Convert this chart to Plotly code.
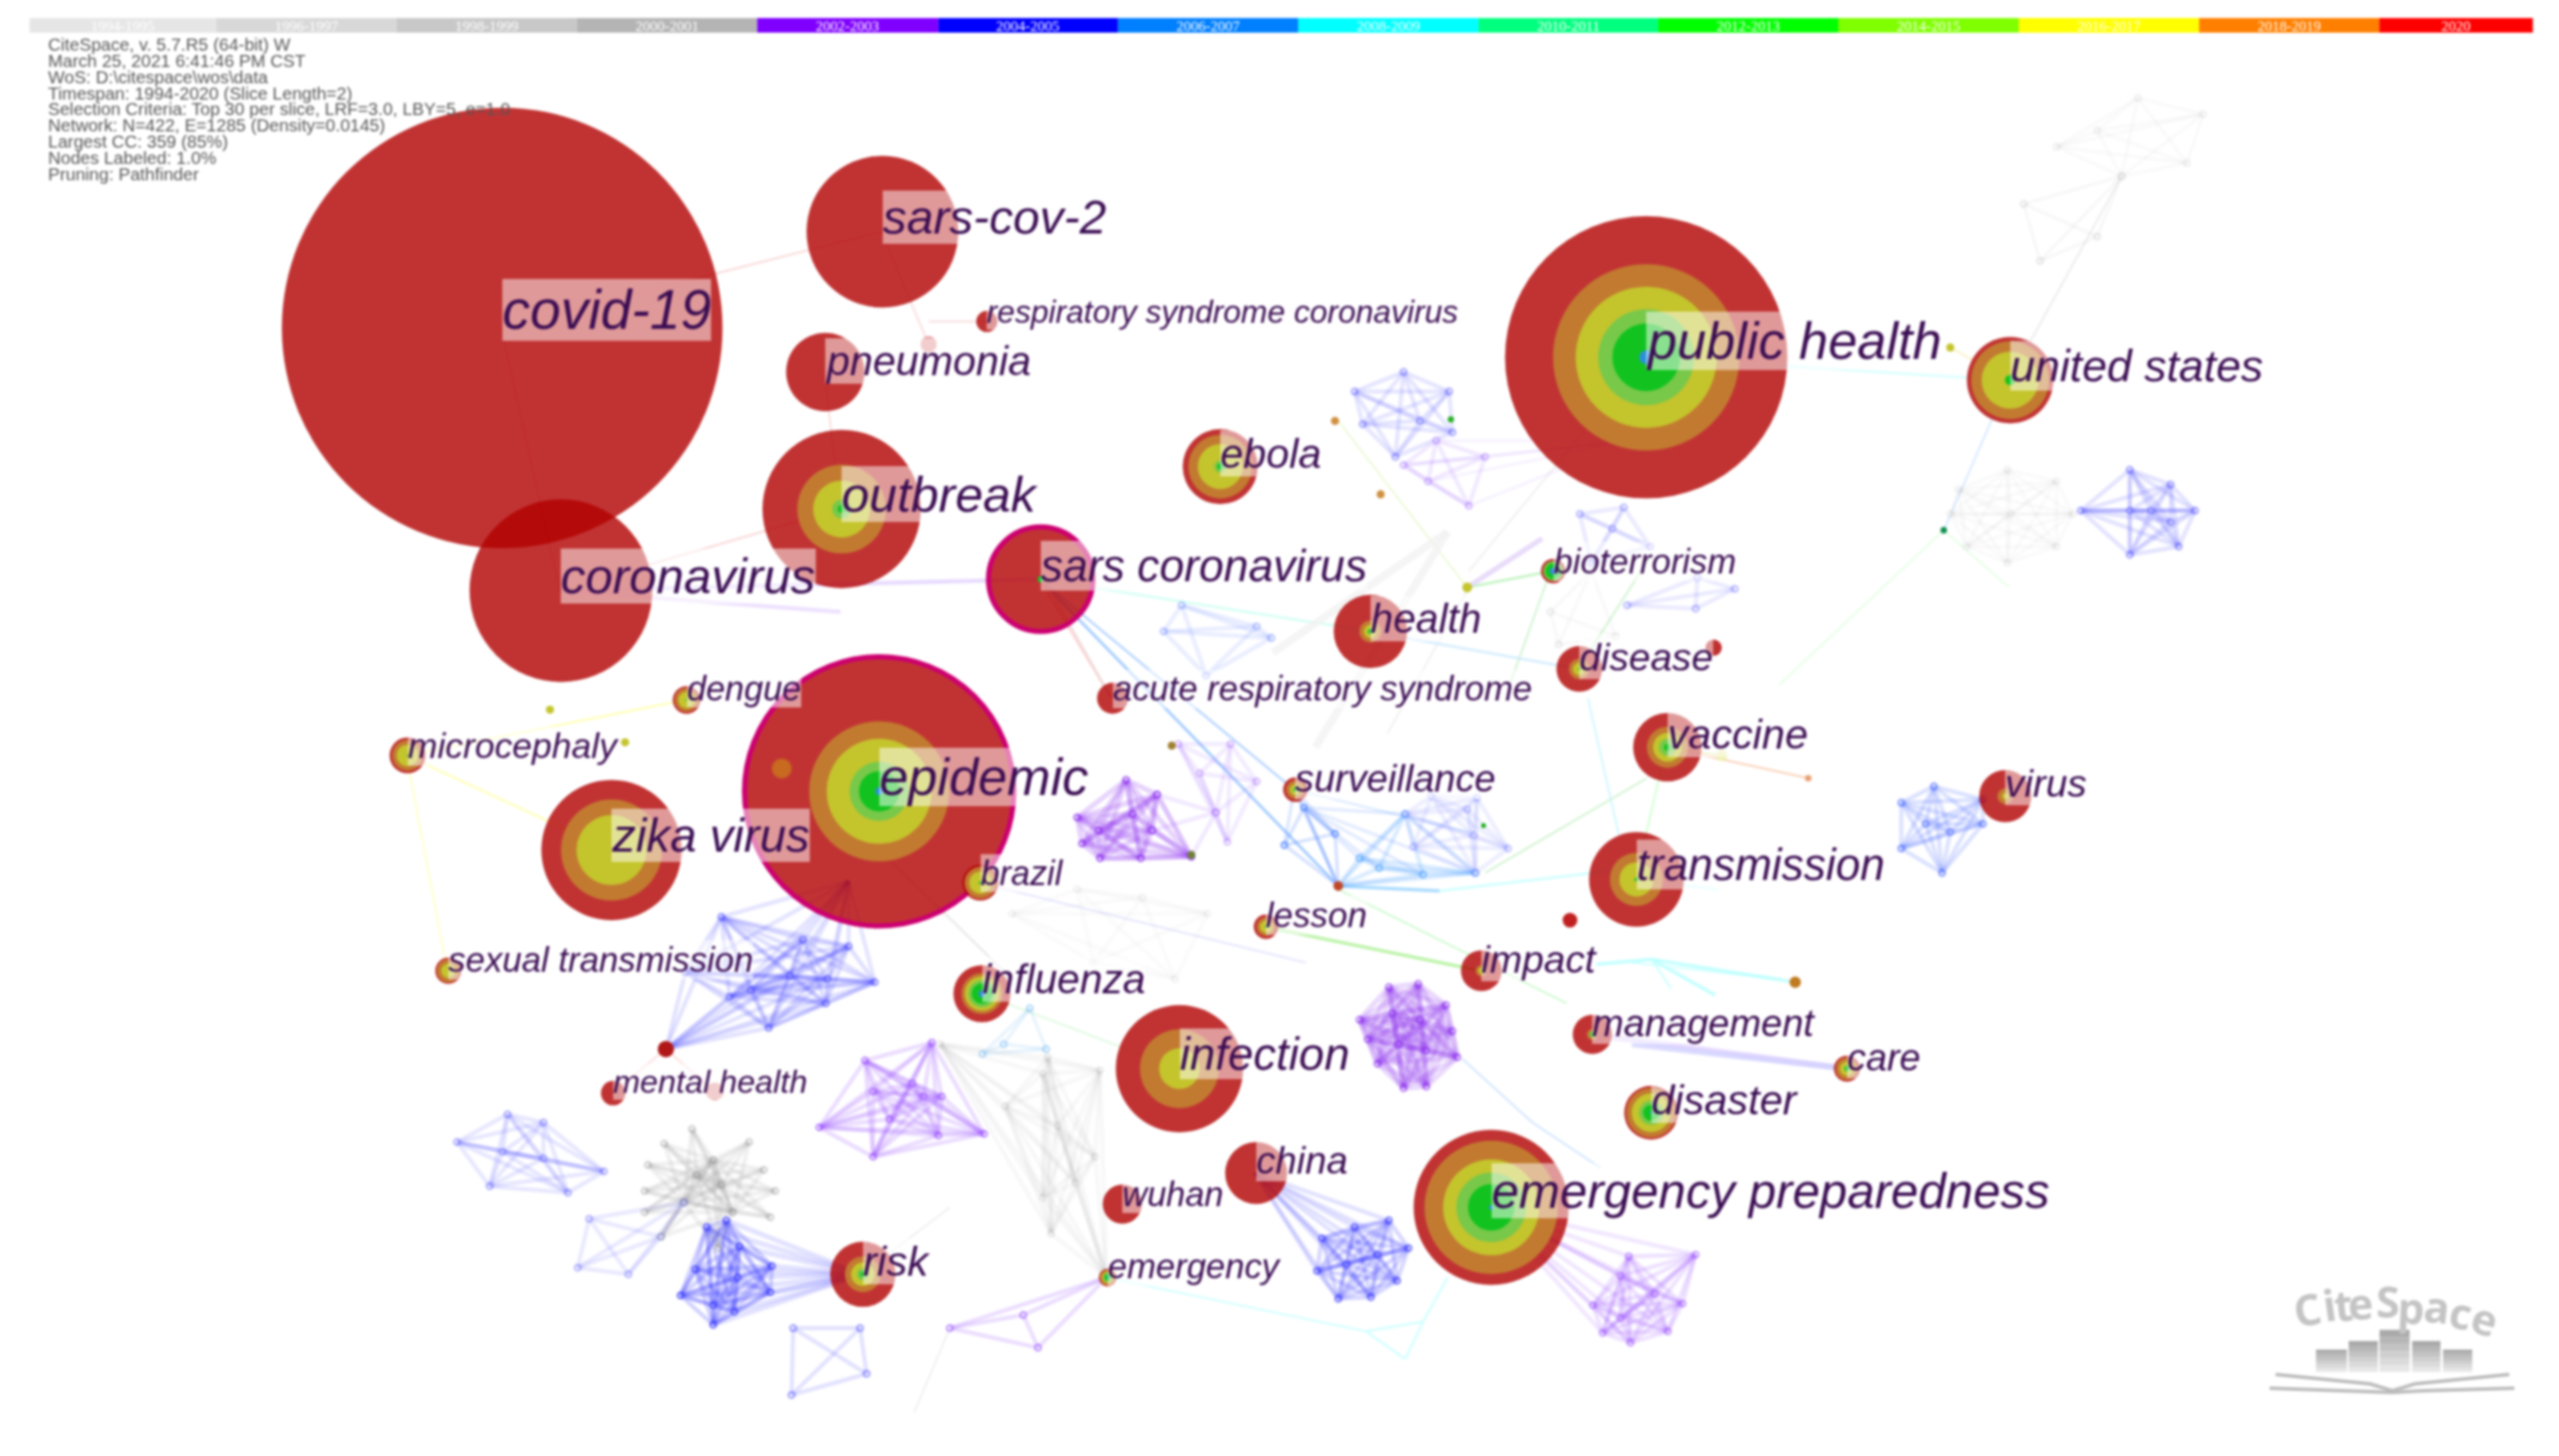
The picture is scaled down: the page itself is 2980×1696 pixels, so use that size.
import itertools
import plotly.graph_objects as go

W, H = 2980, 1696
VW = 1568.0
VH = VW * H / W
S = W / VW

# ---- timeline ----
slice_labels = ["1994-1995", "1996-1997", "1998-1999", "2000-2001", "2002-2003", "2004-2005", "2006-2007",
                "2008-2009", "2010-2011", "2012-2013", "2014-2015", "2016-2017", "2018-2019", "2020"]
slice_colors = ["#e6e6e6", "#d8d8d8", "#c8c8c8", "#b4b4b4", "#7f00ff", "#0000ff", "#007fff",
                "#00ffff", "#00ff7f", "#00ff00", "#7fff00", "#ffff00", "#ff7f00", "#ff0000"]
slice_edges = [18, 132.5, 243, 353.5, 464, 575, 685, 795.5, 906, 1016, 1126.5, 1237, 1347.5, 1458, 1552]

# ---- header ----
header_lines = ["CiteSpace, v. 5.7.R5 (64-bit) W", "March 25, 2021 6:41:46 PM CST", "WoS: D:\\citespace\\wos\\data",
                "Timespan: 1994-2020 (Slice Length=2)",
                "Selection Criteria: Top 30 per slice, LRF=3.0, LBY=5, e=1.0",
                "Network: N=422, E=1285 (Density=0.0145)", "Largest CC: 359 (85%)", "Nodes Labeled: 1.0%",
                "Pruning: Pathfinder"]

# ---- labelled nodes ----
labels = ["covid-19", "sars-cov-2", "respiratory syndrome coronavirus", "pneumonia", "public health", "united states",
          "outbreak", "ebola", "coronavirus", "sars coronavirus", "bioterrorism", "health", "disease",
          "acute respiratory syndrome", "dengue", "microcephaly", "epidemic", "vaccine", "surveillance", "virus",
          "zika virus", "brazil", "transmission", "lesson", "sexual transmission", "impact", "influenza", "management",
          "infection", "care", "mental health", "disaster", "china", "wuhan", "emergency preparedness", "risk", "emergency"]
node_x = [307.7, 540.7, 604.7, 505.7, 1008.7, 1231.7, 515.7, 747.7, 343.7, 637.7, 951.7, 839.7, 967.7, 681.7, 420.7, 249.7,
          538.7, 1021.7, 793.7, 1228.7, 374.7, 600.7, 1002.7, 775.7, 274.7, 907.7, 601.7, 975.7, 722.7, 1131.7, 375.7,
          1011.7, 769.7, 687.7, 913.7, 528.7, 678.7]
node_y = [201, 142, 197, 228, 219, 233, 312, 286, 362, 355, 350, 387, 410, 428, 429, 463, 485, 458, 484, 488,
          521, 541, 539, 568, 595, 595, 609, 634, 655, 655, 670, 682, 719, 738, 740, 781, 783]
node_d = [270, 93, 13, 48, 173, 53, 97, 46, 112, 64, 15, 45, 28, 19, 17, 22, 165, 42, 15, 32,
          86, 22, 58, 15, 16, 25, 35, 24, 78, 16, 15, 33, 38, 24, 95, 40, 11]
frac_orange = [0, 0, 0, 0, .66, .90, .56, .85, 0, 0, 0, .30, .45, 0, .85, .85, .52, .60, .75, .30,
               .72, .88, .56, .75, .88, .28, .72, .28, .62, .85, 0, .92, 0, 0, .86, .55, .90]
frac_yellow = [0, 0, 0, 0, .50, .66, .36, .60, 0, 0, 0, .18, .28, 0, .60, .60, .39, .42, .45, .12,
               .50, .62, .36, .50, .55, .15, .60, 0, .32, .55, 0, .72, 0, 0, .62, .36, .62]
frac_lgreen = [0, 0, 0, 0, .34, 0, .12, .16, 0, 0, .80, .08, 0, 0, .10, 0, .22, .25, .22, 0,
               0, 0, 0, .12, 0, 0, .48, .15, 0, .25, 0, .45, 0, 0, .45, .18, .48]
frac_green = [0, 0, 0, 0, .24, .12, .05, .08, 0, .06, .65, .06, .05, 0, .05, .05, .15, .10, .12, 0,
              0, .08, .04, .06, 0, 0, .36, .08, 0, .15, 0, .30, 0, 0, .30, .08, .36]
frac_blue = [0, 0, 0, 0, .05, 0, 0, 0, 0, 0, .28, 0, 0, 0, 0, 0, .03, 0, 0, 0,
             0, 0, 0, 0, 0, 0, .12, 0, 0, 0, 0, .05, 0, 0, .03, 0, .12]
outlined = ["epidemic", "sars coronavirus"]
label_width = [128, 137, 289, 125, 180, 155, 119, 62, 156, 200, 112, 68, 82, 257, 70, 128, 128, 86, 123, 50,
               121, 50, 152, 62, 187, 70, 100, 136, 104, 45, 119, 89, 56, 62, 342, 40, 105]
label_y = [190, 133, 191, 221, 209, 224, 303, 278, 353, 347, 344, 379, 403, 422, 422, 457, 476, 450, 477, 480,
           512, 535, 530, 561, 588, 588, 600, 627, 646, 648, 663, 674, 711, 732, 730, 773, 776]

# ---- unlabelled small nodes ----
small_x = [569, 438, 408, 962, 1100, 337, 383, 1195, 899, 1191, 818, 889, 846, 1055, 1108, 1050, 479, 730, 718, 820, 909]
small_y = [211, 669, 643, 564, 602, 435, 455, 213, 360, 325, 258, 257, 303, 463, 477, 397, 471, 524, 457, 543, 506]
small_d = [10, 11, 10, 9, 7, 5, 5, 5, 6, 4, 5, 4, 5, 7, 4, 10, 12, 5, 5, 6, 3]
small_c = ["#e59a9a", "#e59a9a", "#b01818", "#c02020", "#c07a20", "#c4c42c", "#c4c42c", "#c4c42c", "#c4c42c", "#109050",
           "#d09040", "#30b030", "#d09040", "#efefb0", "#e8a070", "#c03030", "#c86a20", "#70803a", "#a08030", "#c04828", "#20b020"]

# ---- clusters ----
cl_big_blue = [(442, 562), (492, 576), (520, 580), (536, 602), (507, 600), (506, 615), (471, 630), (447, 611), (460, 607), (420, 596), (484, 598)]
cl_lilac_star = [(571, 639), (530, 650), (535, 669), (559, 664), (566, 672), (577, 672), (545, 686), (575, 696), (603, 695), (535, 709), (502, 691)]
cl_blue_left = [(311, 683), (333, 688), (280, 700), (308, 706), (333, 710), (370, 718), (348, 731), (300, 727)]
cl_grey_star_inner = [(437, 711), (442, 726), (427, 720), (419, 737), (449, 743)]
cl_grey_star_outer = [(424, 692), (459, 700), (407, 701), (397, 714), (468, 717), (475, 730), (395, 730), (472, 746), (395, 743), (405, 758), (440, 765)]
cl_square_left = [(361, 747), (354, 777), (385, 781), (419, 737), (405, 758)]
cl_blue_risk = [(433, 752), (445, 748), (453, 764), (473, 776), (426, 778), (452, 783), (472, 792), (417, 794), (437, 800), (450, 804), (437, 812)]
cl_x_bottom = [(486, 814), (527, 814), (531, 842), (485, 855)]
cl_lilac_bottom = [(582, 814), (678, 783), (636, 826), (627, 806)]
cl_grey_centre = [(639, 658), (616, 678), (642, 648), (674, 656), (671, 709), (639, 734), (659, 725), (644, 756), (678, 783), (576, 640), (648, 690)]
cl_sky_influenza = [(602, 646), (631, 618), (641, 643), (615, 640)]
cl_purple_mid = [(690, 478), (709, 487), (660, 501), (694, 499), (673, 509), (706, 509), (663, 517), (674, 526), (699, 526), (730, 525)]
cl_purple_bridge = [(709, 487), (745, 498), (730, 525), (706, 509)]
cl_purple_round = [(851, 605), (869, 603), (886, 616), (833, 625), (853, 621), (870, 625), (890, 632), (838, 637), (857, 640), (874, 644), (893, 648), (844, 652), (860, 667), (874, 666)]
cl_lilac_prep = [(1039, 769), (998, 770), (993, 782), (1014, 793), (1031, 799), (976, 800), (993, 808), (1022, 816), (982, 817), (999, 823)]
cl_blue_china = [(851, 748), (830, 752), (810, 759), (863, 765), (844, 769), (825, 775), (807, 779), (856, 785), (840, 795), (820, 796)]
cl_grey_top = [(1240, 125), (1250, 160), (1300, 108), (1285, 145)]
cl_grey_top2 = [(1285, 80), (1310, 60), (1350, 70), (1340, 100), (1300, 108), (1260, 90)]
cl_blue_pub = [(830, 240), (860, 228), (888, 240), (890, 265), (855, 280), (835, 260), (870, 258)]
cl_lilac_pub = [(860, 285), (900, 310), (910, 280), (880, 270), (875, 295)]
cl_grey_right = [(1200, 300), (1230, 288), (1260, 295), (1270, 315), (1260, 335), (1230, 345), (1205, 335), (1195, 315), (1232, 315)]
cl_blue_right = [(1275, 313), (1305, 288), (1330, 297), (1345, 313), (1335, 335), (1305, 340), (1305, 313), (1318, 313), (1330, 320)]
cl_blue_bio = [(968, 315), (995, 311), (988, 324), (1011, 335), (975, 345)]
cl_blue_bio2 = [(1063, 361), (997, 371), (1039, 373), (1040, 354)]
cl_grey_bio = [(950, 375), (975, 350), (990, 390), (955, 395)]
cl_blue_mid = [(724, 371), (713, 387), (770, 384), (779, 391), (739, 414)]
cl_lilac_mid = [(754, 456), (722, 456), (770, 479), (735, 474), (752, 516), (745, 498)]
cl_sky_left = [(799, 495), (787, 518), (818, 511), (820, 543)]
cl_sky_low = [(845, 532), (872, 536), (904, 535), (833, 526), (861, 499), (820, 543)]
cl_peri_high = [(905, 489), (877, 488), (899, 496), (903, 512), (866, 519), (861, 499), (924, 520), (904, 535)]
cl_blue_virus = [(1165, 492), (1185, 482), (1215, 490), (1215, 505), (1190, 535), (1165, 520), (1180, 505), (1195, 510)]
cl_grey_brazil = [(620, 560), (660, 545), (700, 550), (740, 560), (720, 600), (670, 590)]

cluster_sets = [
    (cl_grey_star_inner, "#909090", .16, 5), (cl_grey_centre, "#a0a0a0", .07, 5), (cl_grey_top, "#b0b0b0", .09, 4),
    (cl_grey_top2, "#b0b0b0", .06, 4), (cl_grey_right, "#b0b0b0", .06, 4), (cl_grey_bio, "#b0b0b0", .08, 4),
    (cl_grey_brazil, "#b0b0b0", .05, 5), (cl_big_blue, "#4646ff", .17, 5), (cl_blue_left, "#5a5aff", .14, 5),
    (cl_square_left, "#6a6aff", .14, 5), (cl_blue_risk, "#3c3cff", .22, 5), (cl_x_bottom, "#5a5aff", .17, 5),
    (cl_blue_china, "#3c3cff", .20, 5), (cl_blue_pub, "#5a5aff", .15, 5), (cl_blue_right, "#5a5aff", .16, 5),
    (cl_blue_bio, "#5a5aff", .12, 5), (cl_blue_bio2, "#5a5aff", .12, 5), (cl_blue_mid, "#5a7aff", .13, 5),
    (cl_blue_virus, "#4a6aff", .19, 5), (cl_sky_influenza, "#60b0f0", .14, 4), (cl_sky_left, "#4a80ff", .22, 4),
    (cl_sky_low, "#4aa0ff", .20, 5), (cl_peri_high, "#7a80ff", .13, 5),
    (cl_lilac_star, "#9a50ff", .19, 5), (cl_lilac_bottom, "#a060ff", .20, 5), (cl_lilac_prep, "#9a50ff", .16, 5),
    (cl_lilac_pub, "#9a60ff", .13, 5), (cl_lilac_mid, "#a060ff", .12, 5), (cl_purple_bridge, "#a060ff", .14, 5),
    (cl_purple_mid, "#8a2cf0", .20, 6), (cl_purple_round, "#8a2cf0", .17, 6),
]

# fans from hubs into clusters: hub point, cluster, colour, alpha, width
fan_sets = [
    ((520, 540), cl_big_blue, "#4646ff", .14, 5),
    ((408, 643), cl_big_blue, "#4646ff", .15, 5),
    ((528, 781), cl_blue_risk, "#3c3cff", .14, 6),
    ((769, 719), cl_blue_china, "#3c3cff", .15, 5),
    ((913, 740), cl_lilac_prep, "#9a50ff", .13, 5),
    ((1000, 270), cl_lilac_pub, "#9a60ff", .07, 4),
    ((793, 484), cl_sky_left, "#4a80ff", .18, 4),
    ((799, 495), cl_sky_low, "#4a80ff", .15, 4),
]
for inner in cl_grey_star_inner:
    fan_sets.append((inner, cl_grey_star_outer, "#909090", .13, 5))

# single links: start x, start y, end x, end y, colour, width
link_x0 = [307, 307, 343, 343, 343, 505, 569, 605, 1008, 1191, 1191, 951, 1055, 1108, 249, 249, 249, 1002, 775, 820, 601, 1012, 975, 1090, 678, 837, 872, 861,
           872, 1002, 408, 408, 637, 637, 637, 637, 900, 1008, 899, 1008, 793, 600, 601, 538, 1191, 1195, 528, 582, 1231, 820, 882, 978, 1012, 1012, 896, 939,
           1009, 973, 899, 887, 887, 1000, 950, 839, 967, 681]
link_y0 = [201, 201, 362, 362, 362, 228, 211, 197, 219, 325, 325, 350, 463, 477, 463, 463, 463, 539, 568, 545, 609, 588, 634, 600, 783, 816, 810, 833,
           810, 539, 643, 643, 355, 355, 355, 355, 360, 219, 360, 219, 484, 541, 609, 520, 325, 213, 781, 814, 233, 543, 546, 591, 588, 588, 649, 688,
           477, 428, 360, 326, 326, 640, 350, 387, 410, 428]
link_x1 = [343, 540, 515, 515, 637, 515, 540, 569, 1231, 1231, 1090, 899, 1021, 1021, 420, 274, 374, 1021, 907, 960, 722, 1051, 1131, 1000, 837, 872, 861, 837,
           887, 1052, 375, 438, 820, 840, 793, 681, 850, 900, 820, 1231, 900, 800, 722, 620, 1231, 1231, 582, 560, 1300, 882, 1002, 1012, 1100, 1024, 939, 981,
           910, 992, 945, 806, 780, 1131, 925, 967, 1012, 640]
link_y1 = [362, 142, 312, 375, 355, 312, 142, 197, 233, 233, 420, 360, 458, 458, 429, 595, 521, 458, 595, 615, 655, 610, 655, 590, 816, 810, 833, 816,
           783, 545, 670, 669, 543, 387, 484, 428, 450, 350, 258, 233, 510, 590, 655, 600, 360, 233, 740, 866, 108, 546, 532, 588, 602, 606, 688, 716,
           535, 512, 330, 458, 400, 655, 420, 410, 340, 355]
link_c = ["#f8d0d0", "#f8d0d0", "#f8d0d0", "#e8d8ff", "#e0d0ff", "#f8d8d8", "#f8d8d8", "#f8d8d8", "#d8ffff", "#cfe4ff", "#e0ffe0", "#b0f0b0", "#e0e090", "#f8c8a8", "#ffffa0", "#ffffc0", "#ffffa0", "#c8ffc8", "#a8f090", "#c8f8c8", "#d8ffd8", "#b0ffff", "#e0d0ff", "#c8ffff", "#c8ffff", "#c8ffff", "#c8ffff", "#c8ffff",
          "#c8ffff", "#c8ffff", "#ffd8d8", "#ffd8d8", "#90c0ff", "#c8fff0", "#a8ccff", "#ffc0c0", "#eeeeee", "#eeeeee", "#e8f8d0", "#d8ffff", "#cfe4ff", "#e0e0ff", "#e8f8e8", "#e0e0e0", "#e0ffe0", "#f8f0c0", "#eeeeee", "#eeeeee", "#e8e8e8", "#90d0ff", "#c0ffff", "#b0ffff", "#b0ffff", "#c8ffff", "#c8e0ff", "#c8e0ff",
          "#c8f0c8", "#c8f4ff", "#e0d0f8", "#f2f2f2", "#f2f2f2", "#d0d0ff", "#c8f0c8", "#c8e8ff", "#c8f0c8", "#e8d8d8"]
link_w = [2.5, 2.5, 2.5, 5, 5, 2.5, 2.5, 2.5, 3, 2.5, 2.5, 3, 2.5, 2.5, 2.5, 2.5, 2.5, 2.5, 4, 2.5, 2.5, 4, 7, 2.5, 2.5, 3, 3, 3,
          3, 2.5, 2.5, 2.5, 3.5, 3, 3, 2.5, 2.5, 2.5, 2.5, 2.5, 2.5, 2.5, 2.5, 2.5, 2.5, 2.5, 2.5, 2.5, 2.5, 4, 3, 4, 4, 3, 2.5, 2.5,
          2.5, 2.5, 6, 9, 9, 7, 2.5, 3, 2.5, 2.5]

# ---- logo ----
logo_letters = ["C", "i", "t", "e", "S", "p", "a", "c", "e"]
logo_lx = [2687, 2712, 2729, 2749, 2781, 2808, 2838, 2866, 2894]
logo_ly = [1525, 1520, 1520, 1518, 1516, 1523, 1522, 1529, 1536]
logo_rot = [-10, -8, -6, -4, 0, 3, 6, 11, 16]
logo_bar_left = [2697, 2735, 2771, 2809, 2845]
logo_bar_right = [2733, 2769, 2806, 2842, 2879]
logo_bar_top = [1572, 1562, 1549, 1562, 1572]
logo_bar_bottom = 1598
logo_book = [([2650, 2760, 2786, 2812, 2922], [1601, 1612, 1620, 1612, 1601]),
             ([2643, 2750, 2786, 2822, 2928], [1617, 1620, 1622, 1620, 1617])]

ARIAL = dict(zip("abcdefghijklmnopqrstuvwxyz -0123456789",
                 [556, 556, 500, 556, 556, 278, 556, 556, 222, 222, 500, 222, 833, 556, 556, 556, 556, 333, 500, 278,
                  556, 500, 722, 500, 500, 500, 278, 333] + [556] * 10))


def font_for(text, width):
    return width * S * 1000 / sum(ARIAL[c] for c in text)


fig = go.Figure()


def lines(xs, ys, color, width):
    fig.add_trace(go.Scatter(x=xs, y=ys, mode="lines", hoverinfo="skip", showlegend=False,
                             line=dict(color=color, width=width)))


def rgba(hex_c, a):
    return f"rgba({int(hex_c[1:3], 16)},{int(hex_c[3:5], 16)},{int(hex_c[5:7], 16)},{a})"


# links
for x0, y0, x1, y1, c, w in zip(link_x0, link_y0, link_x1, link_y1, link_c, link_w):
    lines([x0, x1], [y0, y1], rgba(c, .75), w)

# clusters
for pts, col, alpha, w in cluster_sets:
    xs, ys = [], []
    for (a, b), (c, d) in itertools.combinations(pts, 2):
        xs += [a, c, None]
        ys += [b, d, None]
    lines(xs, ys, rgba(col, alpha), w)
for hub, pts, col, alpha, w in fan_sets:
    xs, ys = [], []
    for p in pts:
        xs += [hub[0], p[0], None]
        ys += [hub[1], p[1], None]
    lines(xs, ys, rgba(col, alpha), w)
for pts, col, alpha, w in cluster_sets + [(cl_grey_star_outer, "#909090", .13, 5)]:
    fig.add_trace(go.Scatter(x=[p[0] for p in pts], y=[p[1] for p in pts], mode="markers", hoverinfo="skip",
                             showlegend=False,
                             marker=dict(size=7, opacity=1, color="rgba(255,255,255,0.25)",
                                         line=dict(color=rgba(col, min(1, alpha * 3)), width=2.5))))

# node discs, outermost first
fig.add_trace(go.Scatter(x=node_x, y=node_y, mode="markers", hoverinfo="skip", showlegend=False,
                         marker=dict(size=[d * S for d in node_d], opacity=1, color="rgba(178,0,0,0.8)",
                                     line=dict(width=[6 if n in outlined else 0 for n in labels], color="#cc0070"))))
for frac, col in [(frac_orange, "#c27a30"), (frac_yellow, "#c4c42c"), (frac_lgreen, "#78c84a"),
                  (frac_green, "#12c31f"), (frac_blue, "#2a90d8")]:
    keep = [i for i, f in enumerate(frac) if f > 0]
    fig.add_trace(go.Scatter(x=[node_x[i] for i in keep], y=[node_y[i] for i in keep], mode="markers",
                             hoverinfo="skip", showlegend=False,
                             marker=dict(size=[node_d[i] * frac[i] * S for i in keep], opacity=1, color=col,
                                         line=dict(width=0))))
fig.add_trace(go.Scatter(x=small_x, y=small_y, mode="markers", hoverinfo="skip", showlegend=False,
                         marker=dict(size=[d * S for d in small_d], opacity=1, color=small_c, line=dict(width=0))))

# timeline
for i, (lab, col) in enumerate(zip(slice_labels, slice_colors)):
    fig.add_shape(type="rect", x0=slice_edges[i], x1=slice_edges[i + 1], y0=11, y1=20, fillcolor=col, line_width=0)
    fig.add_annotation(x=(slice_edges[i] + slice_edges[i + 1]) / 2, y=16, text=lab, showarrow=False,
                       font=dict(family="Liberation Serif", size=17, color="#ffffff"))

ann = fig.add_annotation
for i, t in enumerate(header_lines):
    ann(x=28.5, y=27.2 + i * 9.9, text=t, showarrow=False, xanchor="left", yanchor="middle",
        font=dict(family="Liberation Sans", size=20.5, color="#555555"))

# node labels
for n, x, w, y in zip(labels, node_x, label_width, label_y):
    ann(x=x, y=y, text=f"<i>{n}</i>", showarrow=False, xanchor="left", yanchor="middle", borderpad=0, borderwidth=0,
        bgcolor="rgba(255,255,255,0.5)",
        font=dict(family="Liberation Sans", size=font_for(n, w), color="#3a0c52"))

# logo
for c, x, y, r in zip(logo_letters, logo_lx, logo_ly, logo_rot):
    ann(x=x / S, y=y / S, text=f"<b>{c}</b>", showarrow=False, textangle=r,
        font=dict(family="Open Sans", size=50, color="#c4c4c4"))
for l, rr, t in zip(logo_bar_left, logo_bar_right, logo_bar_top):
    steps = 6
    for k in range(steps):
        y0 = t + (logo_bar_bottom - t) * k / steps
        y1 = t + (logo_bar_bottom - t) * (k + 1) / steps
        fig.add_shape(type="rect", x0=l / S, x1=rr / S, y0=y0 / S, y1=y1 / S, line_width=0,
                      fillcolor=rgba("#aaaaaa", round(1 - k / steps * .85, 2)))
for xs, ys in logo_book:
    lines([v / S for v in xs], [v / S for v in ys], "#bbbbbb", 4)

fig.update_layout(width=W, height=H, margin=dict(l=0, r=0, t=0, b=0), paper_bgcolor="white", plot_bgcolor="white",
                  showlegend=False,
                  xaxis=dict(range=[0, VW], visible=False, fixedrange=True),
                  yaxis=dict(range=[VH, 0], visible=False, fixedrange=True))
fig.write_html("out.html", config=dict(displayModeBar=False),
               post_script="document.body.style.margin='0';"
                           "document.querySelector('.plot-container').style.filter='blur(1.4px)';")
